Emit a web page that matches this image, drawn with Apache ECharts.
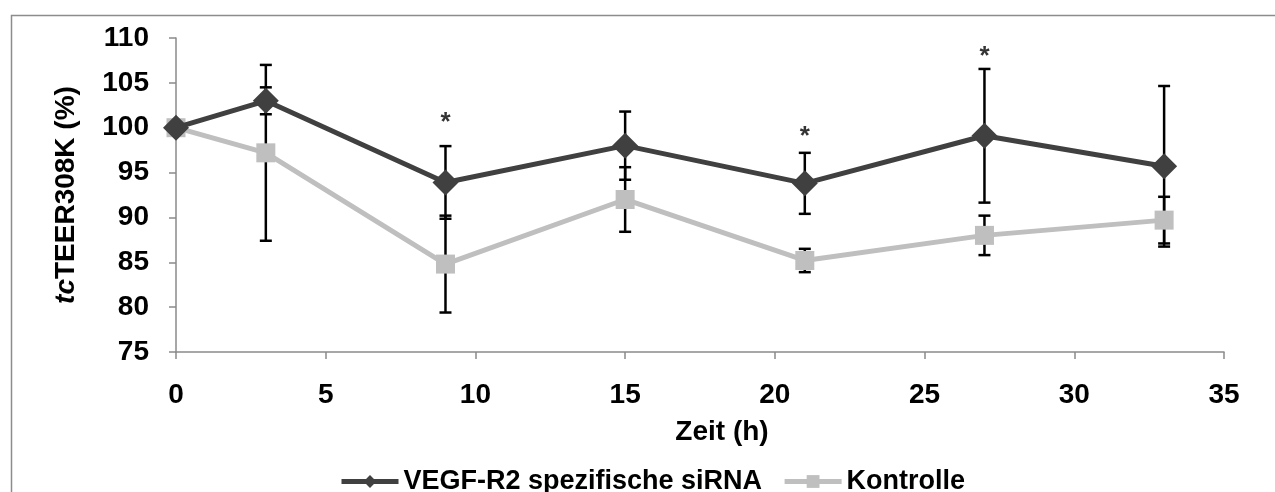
<!DOCTYPE html>
<html>
<head>
<meta charset="utf-8">
<script src="https://cdn.jsdelivr.net/npm/echarts@6/dist/echarts.min.js"></script>
<style>
html,body{margin:0;padding:0;background:#fff;}
#chart{width:1275px;height:492px;}
</style>
</head>
<body>
<div id="chart"></div>
<script>
// ---- data ----
const times = [0, 3, 9, 15, 21, 27, 33];
const vegf = [100, 103.0, 93.9, 98.0, 93.8, 99.1, 95.7];
const vegfErr = [0, 1.5, 4.05, 3.8, 3.4, 7.45, 8.95];
const ctrl = [100, 97.2, 84.8, 92.0, 85.2, 88.0, 89.7];
const ctrlErr = [0, 9.8, 5.4, 3.6, 1.3, 2.2, 2.6];
const starTimes = [9, 21, 27];
const starVals = [100.6, 99.0, 107.9];
const xTicks = [0, 5, 10, 15, 20, 25, 30, 35];
const yTicks = [75, 80, 85, 90, 95, 100, 105, 110];
const seriesNames = ['VEGF-R2 spezifische siRNA', 'Kontrolle'];

const FONT = '"Liberation Sans", Arial, sans-serif';

function errData(vals, errs) {
  return times.map((t, i) => [t, vals[i] - errs[i], vals[i] + errs[i]]).filter((d, i) => errs[i] > 0);
}

function errRender(params, api) {
  const x = api.value(0);
  const lo = api.coord([x, api.value(1)]);
  const hi = api.coord([x, api.value(2)]);
  const hw = 6;
  const st = { stroke: '#000', lineWidth: 2.5 };
  return {
    type: 'group',
    children: [
      { type: 'line', shape: { x1: lo[0], y1: lo[1], x2: hi[0], y2: hi[1] }, style: st },
      { type: 'line', shape: { x1: lo[0] - hw, y1: lo[1], x2: lo[0] + hw, y2: lo[1] }, style: st },
      { type: 'line', shape: { x1: hi[0] - hw, y1: hi[1], x2: hi[0] + hw, y2: hi[1] }, style: st }
    ]
  };
}

const chart = echarts.init(document.getElementById('chart'), null, { renderer: 'canvas' });
chart.setOption({
  animation: false,
  backgroundColor: '#fff',
  graphic: [{
    type: 'rect', left: 9, top: 13, z: -10,
    shape: { x: 0, y: 0, width: 1300, height: 520 },
    style: { fill: 'none', stroke: '#8c8c8c', lineWidth: 1.5 }
  }],
  grid: { left: 176, right: 51, top: 38, bottom: 140 },
  legend: {
    data: seriesNames,
    left: 334, top: 463,
    itemWidth: 57, itemHeight: 16, itemGap: 20,
    lineStyle: { width: 5 },
    textStyle: { fontFamily: FONT, fontWeight: 'bold', fontSize: 27, color: '#000' }
  },
  xAxis: {
    type: 'value', min: 0, max: 35, interval: 5,
    name: 'Zeit (h)', nameLocation: 'middle', nameGap: 66,
    nameTextStyle: { fontFamily: FONT, fontWeight: 'bold', fontSize: 28, color: '#000', padding: [0, 0, 0, 44] },
    axisLine: { lineStyle: { color: '#8a8a8a', width: 1.5 } },
    axisTick: { show: true, length: 7, lineStyle: { color: '#8a8a8a', width: 1.5 } },
    axisLabel: { margin: 29, fontFamily: FONT, fontWeight: 'bold', fontSize: 28, color: '#000',
      formatter: v => xTicks.includes(v) ? String(v) : '' },
    splitLine: { show: false }
  },
  yAxis: {
    type: 'value', min: 75, max: 110, interval: 5,
    name: '{i|tc}TEER308K (%)', nameLocation: 'middle', nameGap: 96,
    nameTextStyle: { fontFamily: FONT, fontWeight: 'bold', fontSize: 28, color: '#000',
      rich: { i: { fontFamily: FONT, fontWeight: 'bold', fontStyle: 'italic', fontSize: 28, color: '#000' } } },
    axisLine: { show: true, lineStyle: { color: '#8a8a8a', width: 1.5 } },
    axisTick: { show: true, length: 7, lineStyle: { color: '#8a8a8a', width: 1.5 } },
    axisLabel: { margin: 27, fontFamily: FONT, fontWeight: 'bold', fontSize: 28, color: '#000',
      formatter: v => yTicks.includes(v) ? String(v) : '' },
    splitLine: { show: false }
  },
  series: [
    {
      name: seriesNames[0], type: 'line', z: 3,
      data: times.map((t, i) => [t, vegf[i]]),
      symbol: 'diamond', symbolSize: 26,
      lineStyle: { color: '#404040', width: 5 },
      itemStyle: { color: '#404040' }
    },
    {
      name: seriesNames[1], type: 'line', z: 2,
      data: times.map((t, i) => [t, ctrl[i]]),
      symbol: 'rect', symbolSize: 19,
      lineStyle: { color: '#bfbfbf', width: 5 },
      itemStyle: { color: '#bfbfbf' }
    },
    { type: 'custom', z: 1, data: errData(vegf, vegfErr), renderItem: errRender, silent: true },
    { type: 'custom', z: 1, data: errData(ctrl, ctrlErr), renderItem: errRender, silent: true },
    {
      type: 'scatter', z: 5, symbolSize: 0, silent: true,
      data: starTimes.map((t, i) => [t, starVals[i]]),
      label: { show: true, position: 'inside', formatter: '*', fontFamily: FONT, fontWeight: 'bold', fontSize: 26, color: '#000' }
    }
  ]
});
</script>
</body>
</html>
